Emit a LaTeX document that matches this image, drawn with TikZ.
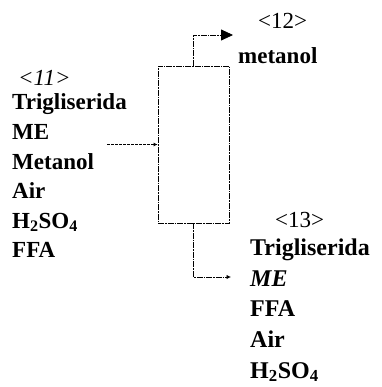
\documentclass[tikz,border=0pt]{standalone}
\usepackage{fontspec}
\setmainfont{Liberation Serif}
\usetikzlibrary{arrows.meta}
\begin{document}
\begin{tikzpicture}[x=1pt,y=-1pt,
  flow/.style={line width=0.8pt, dash pattern=on 6pt off 1pt on 1.5pt off 1pt},
  feed/.style={line width=0.8pt, dash pattern=on 3pt off 1pt, -{Latex[length=4pt,width=4pt]}},
  lblL/.style={inner sep=0pt, anchor=base west, font=\fontsize{23}{28}\selectfont\bfseries},
  lblR/.style={inner sep=0pt, anchor=base west, font=\fontsize{24}{28}\selectfont\bfseries},
  tag/.style={inner sep=0pt, anchor=base west, font=\fontsize{23}{28}\selectfont}]
\useasboundingbox (0,0) rectangle (381,387);
% column
\node[draw, flow, minimum width=71pt, minimum height=157pt, inner sep=0pt] (col) at (193.5,144.5) {};
% feed stream <11>
\node[tag] (t11) at (18,86) {\itshape <11>};
\foreach \txt [count=\i] in {Trigliserida,ME,Metanol,Air,H\textsubscript{2}SO\textsubscript{4},FFA}
  \node[lblL] (f\i) at (12,{110+29.5*(\i-1)}) {\txt};
% top stream <12>
\node[tag] (t12) at (258,29) {<12>};
\node[lblL] (m12) at (238,64) {metanol};
% bottom stream <13>
\node[tag] (t13) at (275,227) {<13>};
\node[lblR] (b1) at (250,255) {Trigliserida};
\node[lblR] (b2) at (250,286) {\itshape ME};
\node[lblR] (b3) at (250,316.5) {FFA};
\node[lblR] (b4) at (250,347) {Air};
\node[lblR] (b5) at (250,378) {H\textsubscript{2}SO\textsubscript{4}};
% connectors
\coordinate (feedstart) at (107,144.5);
\coordinate (topend) at (233,35);
\coordinate (botend) at (231,277);
\draw[feed] (feedstart) -- (col.west);
\draw[flow, -{Triangle[length=12pt,width=11pt]}] (col.north) |- (topend);
\draw[flow, -{Latex[length=4.5pt,width=4.5pt]}] (col.south) |- (botend);
\end{tikzpicture}
\end{document}
